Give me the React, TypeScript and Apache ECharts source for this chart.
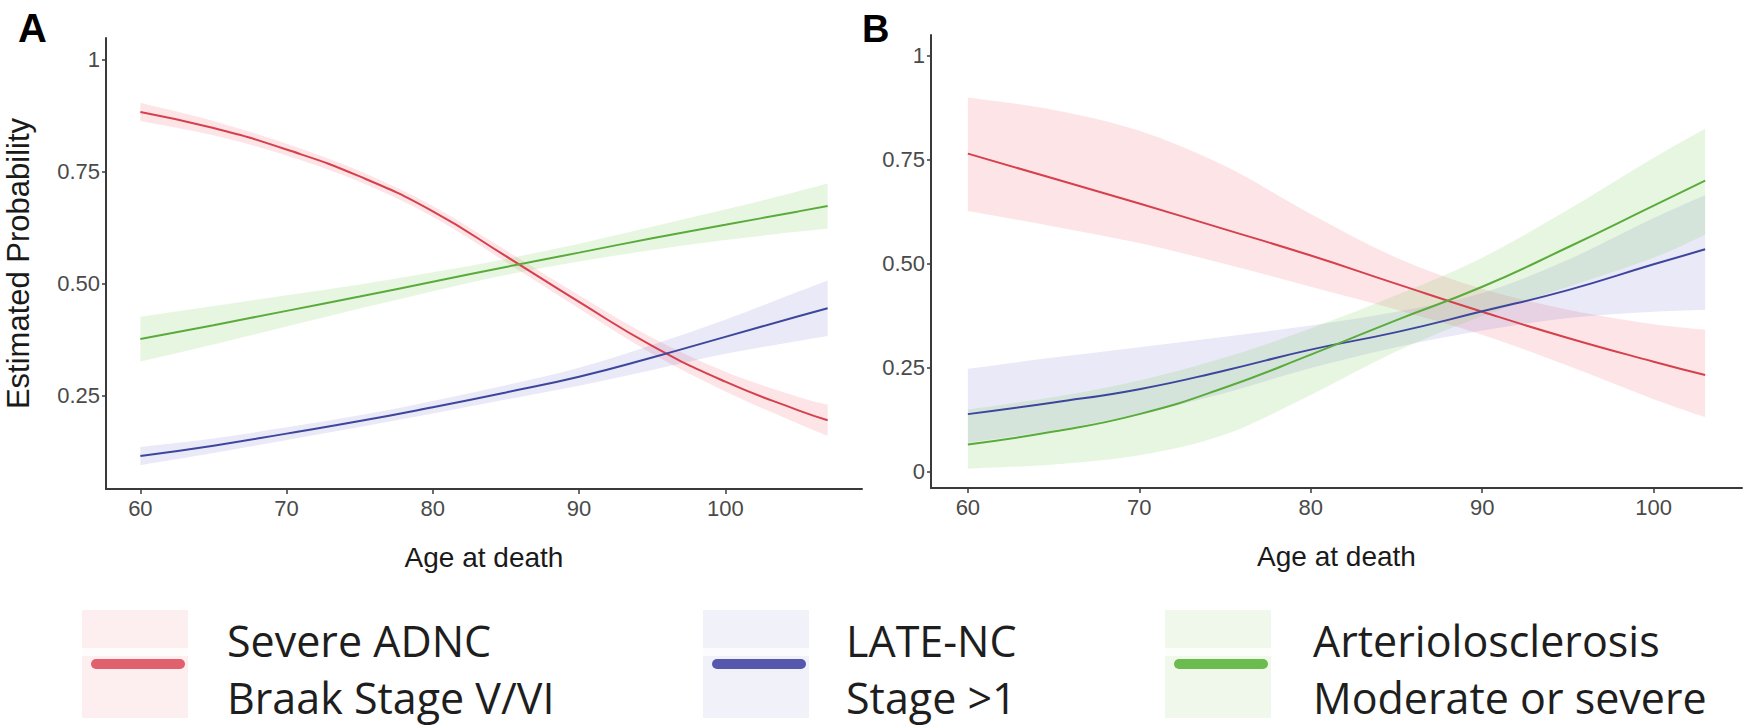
import React, { useEffect, useRef } from "react";
import * as echarts from "echarts";

// ---------- Data ----------
const agesA = [60, 65, 70, 75, 80, 85, 90, 95, 100, 105, 107];
const adncA = [0.884, 0.848, 0.8, 0.74, 0.662, 0.562, 0.46, 0.362, 0.282, 0.218, 0.196];
const adncALo = [0.864, 0.832, 0.787, 0.728, 0.65, 0.549, 0.445, 0.344, 0.26, 0.188, 0.161];
const adncAHi = [0.904, 0.864, 0.813, 0.752, 0.674, 0.575, 0.475, 0.38, 0.304, 0.248, 0.231];
const lateA = [0.116, 0.139, 0.166, 0.194, 0.225, 0.258, 0.293, 0.336, 0.382, 0.428, 0.446];
const lateALo = [0.096, 0.123, 0.152, 0.181, 0.211, 0.242, 0.273, 0.308, 0.344, 0.373, 0.384];
const lateAHi = [0.136, 0.155, 0.18, 0.207, 0.239, 0.274, 0.313, 0.364, 0.42, 0.483, 0.508];
const arterA = [0.377, 0.408, 0.44, 0.472, 0.505, 0.538, 0.57, 0.602, 0.632, 0.662, 0.674];
const arterALo = [0.327, 0.365, 0.405, 0.445, 0.484, 0.52, 0.55, 0.576, 0.598, 0.617, 0.624];
const arterAHi = [0.427, 0.451, 0.475, 0.499, 0.526, 0.556, 0.59, 0.628, 0.666, 0.707, 0.724];

const agesB = [60, 65, 70, 75, 80, 85, 90, 95, 100, 103];
const adncB = [0.765, 0.705, 0.645, 0.583, 0.52, 0.452, 0.385, 0.322, 0.265, 0.233];
const adncBLo = [0.627, 0.59, 0.55, 0.5, 0.445, 0.39, 0.33, 0.255, 0.175, 0.132];
const adncBHi = [0.9, 0.87, 0.82, 0.735, 0.62, 0.515, 0.44, 0.39, 0.355, 0.342];
const lateB = [0.139, 0.167, 0.199, 0.244, 0.294, 0.336, 0.386, 0.437, 0.499, 0.535];
const lateBLo = [0.07, 0.1, 0.14, 0.19, 0.25, 0.3, 0.34, 0.37, 0.385, 0.39];
const lateBHi = [0.248, 0.275, 0.3, 0.325, 0.352, 0.385, 0.43, 0.51, 0.61, 0.665];
const arterB = [0.066, 0.097, 0.139, 0.203, 0.282, 0.365, 0.445, 0.54, 0.64, 0.7];
const arterBLo = [0.008, 0.018, 0.04, 0.09, 0.185, 0.29, 0.375, 0.445, 0.515, 0.57];
const arterBHi = [0.15, 0.18, 0.22, 0.275, 0.345, 0.425, 0.515, 0.63, 0.755, 0.825];

const xTicks = [60, 70, 80, 90, 100];
const yTicksA = [0.25, 0.5, 0.75, 1];
const yTicksB = [0, 0.25, 0.5, 0.75, 1];

const legendLine1 = ["Severe ADNC", "LATE-NC", "Arteriolosclerosis"];
const legendLine2 = ["Braak Stage V/VI", "Stage >1", "Moderate or severe"];

// ---------- Styles ----------
const RED = "#d6404c";
const BLUE = "#3d469c";
const GREEN = "#5aab3c";
const RED_BAND = "rgba(245,120,135,0.2)";
const BLUE_BAND = "rgba(120,120,205,0.16)";
const GREEN_BAND = "rgba(130,205,95,0.19)";
const AX_FONT = '"Liberation Sans", Arial, sans-serif';

function fmtY(v: number) {
  if (v === 0) return "0";
  if (v === 1) return "1";
  return v.toFixed(2);
}

// Catmull-Rom spline through pixel points -> SVG cubic segments
function splineSegs(pts: number[][]): string {
  let d = "";
  const n = pts.length;
  for (let i = 0; i < n - 1; i++) {
    const p0 = pts[Math.max(0, i - 1)];
    const p1 = pts[i];
    const p2 = pts[i + 1];
    const p3 = pts[Math.min(n - 1, i + 2)];
    const c1x = p1[0] + (p2[0] - p0[0]) / 6;
    const c1y = p1[1] + (p2[1] - p0[1]) / 6;
    const c2x = p2[0] - (p3[0] - p1[0]) / 6;
    const c2y = p2[1] - (p3[1] - p1[1]) / 6;
    d += ` C${c1x},${c1y} ${c2x},${c2y} ${p2[0]},${p2[1]}`;
  }
  return d;
}

function band(idx: number, ages: number[], lo: number[], hi: number[], color: string) {
  return {
    type: "custom",
    xAxisIndex: idx,
    yAxisIndex: idx,
    z: 1,
    silent: true,
    clip: true,
    data: ages.map((a, i) => [a, lo[i], hi[i]]),
    encode: { x: 0, y: [1, 2] },
    renderItem: (params: any, api: any) => {
      if (params.dataIndex !== 0) return null;
      const up = ages.map((a, i) => api.coord([a, hi[i]]));
      const dn = ages.map((a, i) => api.coord([a, lo[i]])).reverse();
      const d =
        `M${up[0][0]},${up[0][1]}` +
        splineSegs(up) +
        ` L${dn[0][0]},${dn[0][1]}` +
        splineSegs(dn) +
        " Z";
      return {
        type: "path",
        shape: { pathData: d },
        style: { fill: color, stroke: "none" },
      };
    },
  };
}

function line(idx: number, name: string, ages: number[], vals: number[], color: string) {
  return {
    type: "line",
    name,
    xAxisIndex: idx,
    yAxisIndex: idx,
    z: 3,
    smooth: true,
    showSymbol: false,
    silent: true,
    data: ages.map((a, i) => [a, vals[i]]),
    lineStyle: { color, width: 2 },
  };
}

function xAxis(idx: number, min: number, max: number) {
  return {
    type: "value",
    gridIndex: idx,
    min,
    max,
    name: "Age at death",
    nameLocation: "middle",
    nameGap: 54,
    nameTextStyle: { fontSize: 28, color: "#1a1a1a", fontFamily: AX_FONT },
    axisLine: { show: true, onZero: false, lineStyle: { color: "#3a3a3a", width: 2 } },
    axisTick: { show: true, length: 5, lineStyle: { color: "#3a3a3a", width: 1.5 }, customValues: xTicks },
    axisLabel: { customValues: xTicks, fontSize: 22, color: "#4a4a4a", fontFamily: AX_FONT, margin: 8 },
    splitLine: { show: false },
  };
}

function yAxis(idx: number, min: number, max: number, ticks: number[], withName: boolean) {
  return {
    type: "value",
    gridIndex: idx,
    min,
    max,
    name: withName ? "Estimated Probability" : "",
    nameLocation: "middle",
    nameGap: 72,
    nameTextStyle: { fontSize: 31, color: "#1a1a1a", fontFamily: AX_FONT },
    axisLine: { show: true, onZero: false, lineStyle: { color: "#3a3a3a", width: 2 } },
    axisTick: { show: true, length: 4, lineStyle: { color: "#3a3a3a", width: 1.5 }, customValues: ticks },
    axisLabel: { customValues: ticks, fontSize: 22, color: "#4a4a4a", fontFamily: AX_FONT, margin: 6, formatter: fmtY },
    splitLine: { show: false },
  };
}

const legendColors = [
  { pale: "#fdeef0", line: "#e0606d" },
  { pale: "#f1f1f9", line: "#5558ad" },
  { pale: "#eff8eb", line: "#6cbb4e" },
];
const legendSwatchX = [82, 703, 1165];
const legendTextX = [227, 846, 1313];

function legendGraphics() {
  const els: any[] = [];
  for (let i = 0; i < 3; i++) {
    const sx = legendSwatchX[i];
    els.push({
      type: "rect",
      left: sx,
      top: 610,
      shape: { x: 0, y: 0, width: 106, height: 108 },
      style: { fill: legendColors[i].pale },
      silent: true,
    });
    els.push({
      type: "rect",
      left: sx,
      top: 648,
      shape: { x: 0, y: 0, width: 106, height: 8 },
      style: { fill: "#ffffff", opacity: 0.8 },
      silent: true,
    });
    els.push({
      type: "line",
      shape: { x1: sx + 14, y1: 664, x2: sx + 98, y2: 664 },
      style: { stroke: legendColors[i].line, lineWidth: 10, lineCap: "round" },
      silent: true,
    });
    els.push({
      type: "text",
      x: legendTextX[i],
      y: 640,
      style: {
        text: legendLine1[i],
        fontSize: 43,
        fontFamily: '"Open Sans", sans-serif',
        fill: "#1e1e1e",
        verticalAlign: "middle",
      },
      silent: true,
    });
    els.push({
      type: "text",
      x: legendTextX[i],
      y: 697,
      style: {
        text: legendLine2[i],
        fontSize: 43,
        fontFamily: '"Open Sans", sans-serif',
        fill: "#1e1e1e",
        verticalAlign: "middle",
      },
      silent: true,
    });
  }
  els.push({
    type: "text",
    x: 18,
    y: 28,
    style: { text: "A", fontSize: 40, fontWeight: "bold", fontFamily: '"Liberation Sans", Arial, sans-serif', fill: "#000", verticalAlign: "middle" },
  });
  els.push({
    type: "text",
    x: 862,
    y: 29,
    style: { text: "B", fontSize: 38, fontWeight: "bold", fontFamily: '"Liberation Sans", Arial, sans-serif', fill: "#000", verticalAlign: "middle" },
  });
  return els;
}

export default function App() {
  const ref = useRef<HTMLDivElement>(null);
  useEffect(() => {
    if (!ref.current) return;
    const chart = echarts.init(ref.current, null, { renderer: "svg" });
    chart.setOption({
      animation: false,
      backgroundColor: "#ffffff",
      grid: [
        { left: 106, top: 38, width: 756, height: 451 },
        { left: 931, top: 35, width: 811, height: 453 },
      ],
      xAxis: [xAxis(0, 57.65, 109.35), xAxis(1, 57.85, 105.15)],
      yAxis: [yAxis(0, 0.0424, 1.049, yTicksA, true), yAxis(1, -0.0385, 1.05, yTicksB, false)],
      series: [
        band(0, agesA, adncALo, adncAHi, RED_BAND),
        band(0, agesA, lateALo, lateAHi, BLUE_BAND),
        band(0, agesA, arterALo, arterAHi, GREEN_BAND),
        line(0, "Severe ADNC", agesA, adncA, RED),
        line(0, "LATE-NC", agesA, lateA, BLUE),
        line(0, "Arteriolosclerosis", agesA, arterA, GREEN),
        band(1, agesB, adncBLo, adncBHi, RED_BAND),
        band(1, agesB, lateBLo, lateBHi, BLUE_BAND),
        band(1, agesB, arterBLo, arterBHi, GREEN_BAND),
        line(1, "Severe ADNC", agesB, adncB, RED),
        line(1, "LATE-NC", agesB, lateB, BLUE),
        line(1, "Arteriolosclerosis", agesB, arterB, GREEN),
      ],
      graphic: legendGraphics(),
    });
    return () => chart.dispose();
  }, []);
  return (
    <div
      ref={ref}
      style={{ position: "fixed", left: 0, top: 0, width: 1745, height: 728, background: "#fff" }}
    />
  );
}
